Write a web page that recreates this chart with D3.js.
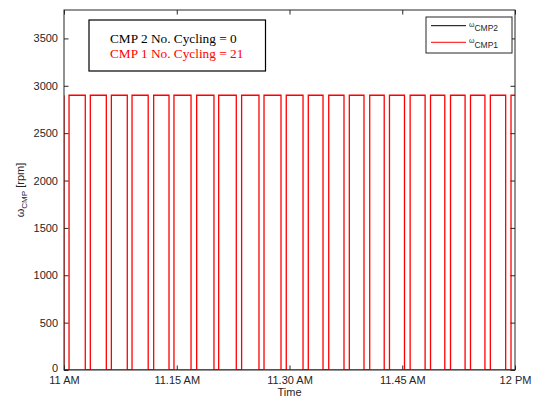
<!DOCTYPE html>
<html>
<head>
<meta charset="utf-8">
<script src="https://cdn.jsdelivr.net/npm/d3@7"></script>
<style>
  html, body { margin: 0; padding: 0; background: #fff; }
  svg { display: block; }
</style>
</head>
<body>
<svg id="chart" width="536" height="402"></svg>
<script>
// Compressor speeds, 11 AM – 12 PM (minutes after 11 AM)
const xTickMinutes = [0, 15, 30, 45, 60];
const xTickLabels = ["11 AM", "11.15 AM", "11.30 AM", "11.45 AM", "12 PM"];
const yTicks = [0, 500, 1000, 1500, 2000, 2500, 3000, 3500];

// CMP 1 switches off at each start time and back on at the matching end time
const cmp1OnSpeed = 2900;
const cmp1OffStart = [0.0, 2.83, 5.63, 8.42, 11.20, 13.97, 16.90, 19.95, 22.92, 25.94, 28.87,
                      31.80, 34.46, 37.25, 39.91, 42.60, 45.30, 48.04, 50.66, 53.36, 56.00, 58.76];
const cmp1OffEnd   = [0.67, 3.50, 6.30, 9.05, 11.93, 14.63, 17.65, 20.58, 23.63, 26.61, 29.57,
                      32.50, 35.22, 37.96, 40.67, 43.30, 46.05, 48.76, 51.42, 54.08, 56.72, 59.47];

// CMP 2 stays off the whole hour
const cmp2Minutes = [0, 60];
const cmp2Speed = [0, 0];

const textLines = ["CMP 2 No. Cycling = 0", "CMP 1 No. Cycling = 21"];

const svg = d3.select("#chart");
const m = { left: 64, right: 515, top: 10, bottom: 370 };
const axisColor = "#262626";

const x = d3.scaleLinear().domain([0, 60]).range([m.left, m.right]);
const y = d3.scaleLinear().domain([0, 3800]).range([m.bottom, m.top]);

// step series for CMP 1
const cmp1 = [[0, cmp1OnSpeed]];
cmp1OffStart.forEach((s, i) => {
  cmp1.push([s, 0]);
  cmp1.push([cmp1OffEnd[i], cmp1OnSpeed]);
});
cmp1.push([60, cmp1OnSpeed]);
const cmp2 = cmp2Minutes.map((t, i) => [t, cmp2Speed[i]]);

svg.append("defs").append("clipPath").attr("id", "plotClip")
  .append("rect")
  .attr("x", m.left).attr("y", m.top)
  .attr("width", m.right - m.left).attr("height", m.bottom - m.top);

const line = d3.line().x(d => x(d[0])).y(d => y(d[1])).curve(d3.curveStepAfter);

const plot = svg.append("g").attr("clip-path", "url(#plotClip)");
plot.append("path").datum(cmp2)
  .attr("d", line).attr("fill", "none")
  .attr("stroke", "#000").attr("stroke-width", 1.2);
plot.append("path").datum(cmp1)
  .attr("d", line).attr("fill", "none")
  .attr("stroke", "#ff0000").attr("stroke-width", 1.3);

// axes with inward ticks on all four sides
const tick = 4.5;
const fontAxis = "Liberation Sans, Arial, Helvetica, sans-serif";

const gx = svg.append("g").attr("transform", `translate(0,${m.bottom})`)
  .call(d3.axisBottom(x).tickValues(xTickMinutes)
    .tickFormat((d, i) => xTickLabels[i])
    .tickSizeInner(-tick).tickSizeOuter(0).tickPadding(6));
const gxTop = svg.append("g").attr("transform", `translate(0,${m.top})`)
  .call(d3.axisTop(x).tickValues(xTickMinutes).tickFormat("")
    .tickSizeInner(-tick).tickSizeOuter(0));
const gy = svg.append("g").attr("transform", `translate(${m.left},0)`)
  .call(d3.axisLeft(y).tickValues(yTicks).tickFormat(d3.format("d"))
    .tickSizeInner(-tick).tickSizeOuter(0).tickPadding(6));
const gyRight = svg.append("g").attr("transform", `translate(${m.right},0)`)
  .call(d3.axisRight(y).tickValues(yTicks).tickFormat("")
    .tickSizeInner(-tick).tickSizeOuter(0));

[gx, gxTop, gy, gyRight].forEach(g => {
  g.select(".domain").remove();
  g.selectAll("line").attr("stroke", axisColor).attr("stroke-width", 1);
  g.selectAll("text").attr("fill", axisColor)
    .style("font-family", fontAxis).style("font-size", "11px");
});
// the zero label sits just above the first time label
gy.selectAll("text").filter(d => d === 0).attr("dy", "0.1em");

svg.append("rect")
  .attr("x", m.left).attr("y", m.top)
  .attr("width", m.right - m.left).attr("height", m.bottom - m.top)
  .attr("fill", "none").attr("stroke", axisColor).attr("stroke-width", 1);

// axis titles
svg.append("text")
  .attr("x", (m.left + m.right) / 2).attr("y", 396)
  .attr("text-anchor", "middle").attr("fill", axisColor)
  .style("font-family", fontAxis).style("font-size", "11px")
  .text("Time");

const yl = svg.append("text")
  .attr("transform", `translate(24,${(m.top + m.bottom) / 2}) rotate(-90)`)
  .attr("text-anchor", "middle").attr("fill", axisColor)
  .style("font-family", fontAxis).style("font-size", "11px");
yl.append("tspan").text("\u03c9");
yl.append("tspan").attr("dy", 3).style("font-size", "8px").text("CMP");
yl.append("tspan").attr("dy", -3).text(" [rpm]");

// annotation box
const box = svg.append("g");
box.append("rect")
  .attr("x", 89).attr("y", 20).attr("width", 176.5).attr("height", 51)
  .attr("fill", "#fff").attr("stroke", "#000").attr("stroke-width", 1.2);
box.selectAll("text.note").data(textLines).enter().append("text")
  .attr("class", "note")
  .attr("x", 110).attr("y", (d, i) => 43.3 + i * 14.4)
  .attr("fill", (d, i) => i === 0 ? "#000" : "#ff0000")
  .style("font-family", "Liberation Serif, Times New Roman, serif")
  .style("font-size", "13.3px")
  .text(d => d);

// legend
const legendItems = [
  { name: "CMP2", color: "#000" },
  { name: "CMP1", color: "#ff0000" }
];
const lg = svg.append("g");
lg.append("rect")
  .attr("x", 426).attr("y", 17).attr("width", 86).attr("height", 36)
  .attr("fill", "#fff").attr("stroke", axisColor).attr("stroke-width", 1);
legendItems.forEach((it, i) => {
  const yy = 25.7 + i * 16.6;
  lg.append("line")
    .attr("x1", 431).attr("x2", 466).attr("y1", yy).attr("y2", yy)
    .attr("stroke", it.color).attr("stroke-width", 1);
  const t = lg.append("text")
    .attr("x", 469).attr("y", yy + 1)
    .attr("fill", axisColor)
    .style("font-family", fontAxis).style("font-size", "7px");
  t.append("tspan").text("\u03c9");
  t.append("tspan").attr("dy", 4.5).style("font-size", "8.5px").text(it.name);
});
</script>
</body>
</html>
